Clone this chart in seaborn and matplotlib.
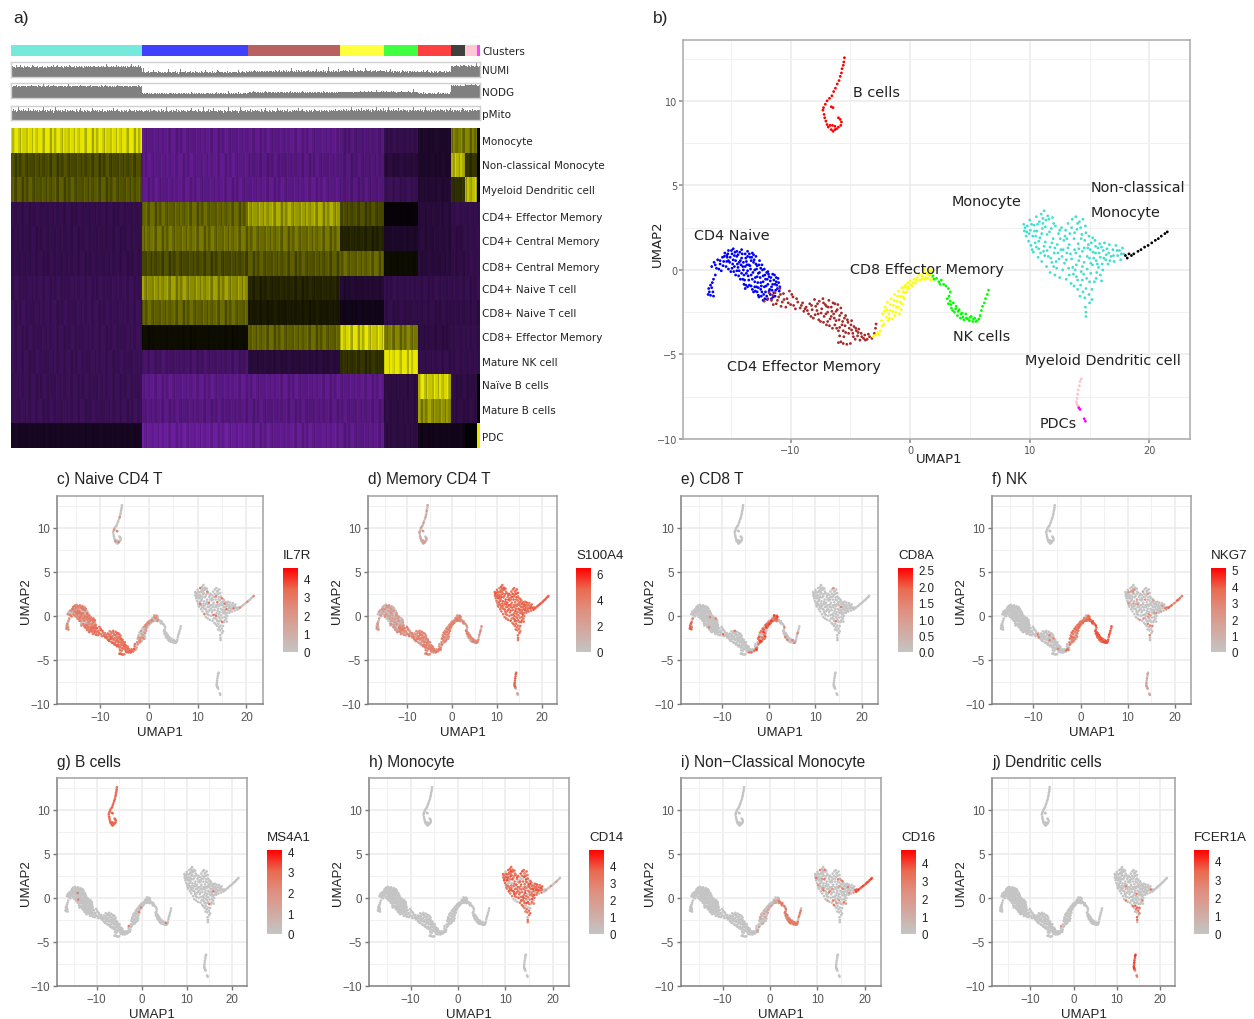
import numpy as np
import pandas as pd
import seaborn as sns
import matplotlib
matplotlib.use('Agg')
import matplotlib.pyplot as plt
from matplotlib.cm import ScalarMappable
from matplotlib.colors import LinearSegmentedColormap, ListedColormap, Normalize

W, H = 1254, 1020
sns.set_theme(style='white')
plt.rcParams['font.family'] = ['Liberation Sans', 'DejaVu Sans']

# ----- UMAP points, one list per cluster
cd4_naive = [(-16.6,0.2),(-16.4,0.45),(-16.2,0.1),(-16.1,0.6),(-15.9,0.35),(-15.8,-0.05),(-15.7,0.75),(-15.6,0.5),(-15.5,1.0),
    (-15.4,0.2),(-15.3,0.75),(-15.2,1.15),(-15.1,0.45),(-15.0,-0.1),(-14.9,0.95),(-14.8,1.25),(-14.8,0.6),(-14.7,0.2),(-14.6,-0.3),
    (-14.5,0.8),(-14.5,1.1),(-14.3,0.45),(-14.3,-0.05),(-14.2,-0.55),(-14.1,1.2),(-14.1,0.7),(-14.0,0.2),(-13.9,-0.3),(-13.9,-0.85),
    (-13.8,0.95),(-13.8,-1.1),(-13.7,0.5),(-13.6,1.1),(-13.6,-0.05),(-13.5,-0.6),(-13.4,0.75),(-13.4,0.25),(-13.3,-0.95),(-13.3,-0.3),
    (-13.2,1.0),(-13.1,0.45),(-13.1,-1.3),(-13.0,0.0),(-13.0,-0.7),(-12.9,0.8),(-12.8,-0.4),(-12.8,0.25),(-12.7,-1.05),(-12.7,-1.5),
    (-12.6,0.55),(-12.6,-0.15),(-12.5,-0.75),(-12.4,0.3),(-12.4,-1.3),(-12.3,-0.35),(-12.3,-1.8),(-12.2,0.05),(-12.2,-1.0),(-12.1,-0.55),
    (-12.0,-1.55),(-12.0,-0.15),(-11.9,-0.85),(-11.8,-1.25),(-11.8,-0.4),(-11.7,-0.65),(-11.6,-1.7),(-11.6,-1.0),(-11.5,-0.25),(-11.4,-0.6),
    (-11.4,-1.35),(-11.3,-0.85),(-11.2,-0.45),(-11.1,-1.1),(-11.0,-0.75),(-10.9,-1.0),(-15.2,0.55),(-14.9,0.1),(-14.6,0.55),(-14.4,0.9),
    (-14.4,0.15),(-14.2,0.55),(-14.0,-0.55),(-13.7,-0.2),(-13.6,0.8),(-13.5,0.3),(-13.3,0.55),(-13.2,-0.55),(-13.0,-1.0),(-12.9,0.35),
    (-12.7,-0.2),(-12.5,0.1),(-12.5,-1.15),(-12.3,-0.7),(-12.1,-1.3),(-11.9,-0.1),(-11.7,-1.45),(-11.5,-0.85),(-11.3,-1.55),(-13.8,0.2),
    (-14.7,0.85),(-13.1,0.9),(-12.8,-1.3),(-11.2,-0.7),
    (-16.3,0.3),(-16.0,0.05),(-15.9,0.55),(-15.65,0.25),(-15.55,0.8),(-15.35,0.5),(-15.25,0.95),(-15.2,0.05),(-15.05,0.75),(-14.95,1.15),
    (-14.85,0.35),(-14.75,-0.1),(-14.65,1.05),(-14.45,0.35),(-14.35,-0.35),(-14.25,1.05),(-14.15,0.3),(-14.05,0.95),(-13.95,0.45),(-13.95,0.0),
    (-13.85,-0.6),(-13.75,0.7),(-13.65,0.3),(-13.55,-0.35),(-13.45,0.95),(-13.45,-0.9),(-13.35,0.05),(-13.25,0.75),(-13.15,-0.15),(-13.05,0.6),
    (-12.95,-0.45),(-12.95,-1.25),(-12.85,0.05),(-12.75,-0.75),(-12.65,0.3),(-12.55,-0.45),(-12.45,-0.95),(-12.45,-1.55),(-12.35,0.0),(-12.25,-1.45),
    (-12.15,-0.3),(-12.05,-0.95),(-11.95,-1.75),(-11.95,-0.55),(-11.85,-0.25),(-11.75,-1.15),(-11.65,-0.45),(-11.55,-1.2),(-11.45,-1.6),(-11.35,-0.3),
    (-11.25,-1.2),(-11.15,-0.9),(-11.05,-0.5),(-10.95,-1.25),(-13.6,-1.0),(-13.2,-1.15),(-12.85,-1.0),(-13.75,-0.9),(-14.1,-0.2),(-14.5,-0.05),
    (-15.35,0.85),(-12.65,-1.6),(-12.15,-1.7)]
cd4_tail = [(-16.3,-0.3),(-16.45,-0.55),(-16.55,-0.75),(-16.7,-0.9),(-16.85,-1.1),(-16.6,-1.05),(-16.8,-1.3),(-16.5,-1.3),
    (-16.7,-1.5),(-16.45,-1.55),(-16.9,-1.45)]
cd4_effector = [(-12.2,-1.85),(-11.9,-1.7),(-11.6,-1.8),(-11.3,-1.35),(-11.2,-2.0),(-11.0,-1.6),(-10.9,-1.1),(-10.7,-1.9),(-10.6,-1.4),
    (-10.4,-2.2),(-10.3,-1.7),(-10.1,-1.25),(-10.0,-2.05),(-9.8,-1.6),(-9.6,-2.3),(-9.4,-1.9),(-9.2,-2.25),(-9.0,-1.95),(-8.9,-2.45),
    (-8.7,-2.2),(-8.5,-2.6),(-8.4,-2.0),(-8.2,-2.35),(-8.1,-2.85),(-8.0,-1.75),(-7.9,-2.15),(-7.7,-2.6),(-7.6,-1.85),(-7.5,-3.05),
    (-7.4,-2.3),(-7.3,-1.7),(-7.2,-2.75),(-7.1,-2.05),(-7.0,-3.25),(-6.9,-2.5),(-6.8,-1.8),(-6.7,-2.9),(-6.6,-2.2),(-6.5,-3.45),
    (-6.4,-2.6),(-6.3,-2.0),(-6.2,-3.0),(-6.1,-2.35),(-6.0,-4.3),(-6.0,-3.6),(-5.9,-2.7),(-5.8,-2.25),(-5.7,-3.25),(-5.6,-4.35),
    (-5.5,-2.85),(-5.4,-3.7),(-5.3,-4.4),(-5.2,-3.1),(-5.1,-3.45),(-5.0,-4.35),(-4.9,-3.0),(-4.8,-3.75),(-4.7,-3.35),(-4.6,-4.1),
    (-4.5,-3.6),(-4.4,-3.9),(-4.2,-4.15),(-4.1,-3.75),(-3.9,-4.05),(-3.8,-3.85),(-3.6,-4.1),(-3.4,-3.95),(-3.2,-4.05),(-3.0,-3.75),
    (-2.9,-3.45),(-2.85,-3.2),(-9.9,-1.45),(-8.8,-2.3),(-7.8,-2.4),(-7.0,-2.15),(-6.6,-2.75),(-6.2,-2.45),(-5.9,-3.4),(-5.4,-2.7),
    (-4.9,-3.55),(-11.5,-1.5),(-10.8,-2.15),(-6.9,-3.05),(-6.3,-3.25),(-5.6,-3.6),(-4.3,-3.5),
    (-11.8,-1.35),(-11.45,-2.05),(-11.1,-1.8),(-10.85,-1.45),(-10.55,-1.75),(-10.2,-1.95),(-9.75,-2.1),(-9.5,-1.7),(-9.1,-2.1),(-8.6,-2.4),
    (-8.3,-2.75),(-8.25,-2.1),(-7.95,-2.65),(-7.75,-2.0),(-7.65,-2.95),(-7.45,-2.55),(-7.25,-1.95),(-7.25,-3.1),(-7.05,-2.6),(-6.85,-2.2),
    (-6.75,-3.3),(-6.55,-2.45),(-6.45,-1.95),(-6.35,-2.85),(-6.15,-3.45),(-6.05,-2.05),(-5.95,-2.95),(-5.75,-2.55),(-5.65,-3.05),(-5.45,-3.3),
    (-5.25,-2.95),(-5.15,-3.75),(-4.95,-3.25),(-4.75,-3.95),(-4.55,-3.45),(-4.35,-3.7),(-4.05,-3.95),(-3.75,-4.15),(-3.5,-3.8),(-5.8,-4.25),
    (-5.9,-3.9),(-5.55,-3.95)]
cd8_effector = [(-3.1,-3.95),(-2.9,-3.85),(-2.7,-3.7),(-2.5,-3.6),(-2.6,-3.85),(-2.4,-3.0),(-2.3,-2.6),(-2.2,-3.2),(-2.1,-2.2),(-2.0,-2.8),
    (-1.9,-1.9),(-1.85,-3.0),(-1.7,-2.4),(-1.6,-1.7),(-1.5,-2.9),(-1.4,-2.1),(-1.3,-1.45),(-1.2,-2.5),(-1.1,-1.85),(-1.0,-1.25),
    (-1.0,-2.2),(-0.9,-2.6),(-0.8,-1.55),(-0.7,-1.05),(-0.7,-2.0),(-0.6,-1.3),(-0.5,-1.7),(-0.4,-0.9),(-0.3,-1.3),(-0.2,-0.75),
    (-0.1,-1.1),(0.0,-0.65),(0.15,-0.95),(0.3,-0.55),(0.45,-0.8),(0.6,-0.45),(0.75,-0.25),(0.8,-0.6),(1.0,-0.35),(1.15,0.05),
    (1.2,-0.55),(1.35,-0.2),(1.45,-0.5),(1.55,0.0),(1.65,-0.3),(1.75,-0.6),(1.85,-0.1),(-1.8,-2.6),(-1.3,-2.7),(-0.5,-1.0),
    (-2.35,-3.3),(-2.15,-2.45),(-1.95,-2.35),(-1.75,-2.85),(-1.65,-2.05),(-1.45,-2.45),(-1.35,-1.8),(-1.15,-2.2),(-1.05,-1.55),(-0.85,-1.9),
    (-0.75,-2.35),(-0.6,-1.6),(-0.45,-1.35),(-0.35,-1.05),(-0.15,-1.0),(0.05,-0.85),(0.25,-0.75),(0.5,-0.6),(0.95,-0.55),(1.1,-0.15),
    (1.3,-0.45),(1.5,-0.25),(1.7,0.0),(1.8,-0.45)]
nk = [(1.9,-0.35),(2.2,-0.5),(2.4,-0.7),(2.6,-0.6),(2.8,-0.85),(3.0,-0.95),(3.2,-1.1),(3.35,-1.3),(3.1,-1.7),(3.2,-2.0),(3.35,-1.85),
    (3.45,-2.25),(3.6,-1.95),(3.7,-2.5),(3.85,-2.15),(3.95,-2.7),(4.1,-2.35),(4.2,-2.85),(4.35,-2.55),(4.5,-2.95),(4.65,-2.6),(4.8,-2.9),
    (4.95,-3.0),(5.1,-2.75),(5.25,-3.05),(5.4,-2.85),(5.6,-3.0),(5.75,-2.9),(5.85,-2.7),(5.95,-2.4),(6.05,-2.15),(6.2,-1.95),
    (6.3,-1.7),(6.45,-1.45),(6.55,-1.2),(2.0,-0.55),(2.5,-0.85),(3.25,-1.55),(3.4,-2.05),(3.55,-2.4),(3.8,-2.3),(4.0,-2.45),(4.25,-2.6),
    (4.4,-2.8),(4.7,-2.85),(5.0,-2.8),(5.3,-2.9),(5.5,-3.05)]
b_cells = [(-5.5,12.55),(-5.55,12.3),(-5.6,12.1),(-5.7,11.9),(-5.75,11.65),(-5.85,11.45),(-5.95,11.2),(-6.1,11.0),(-6.25,10.75),(-6.4,10.55),
    (-6.55,10.3),(-6.75,10.15),(-6.95,10.0),(-7.1,9.8),(-7.25,9.6),(-7.3,9.45),(-7.2,9.2),(-7.15,9.0),(-7.05,8.8),(-6.95,8.6),
    (-6.85,8.45),(-6.7,8.55),(-6.6,8.3),(-6.45,8.2),(-6.3,8.3),(-6.5,8.55),(-6.3,8.5),(-6.15,8.35),(-6.0,8.45),(-5.8,8.55),
    (-5.75,8.75),(-5.85,8.9),(-6.0,9.0),(-6.6,9.65),(-6.45,9.6)]
monocyte = [(9.5,2.7),(9.55,2.3),(9.7,2.0),(9.8,2.6),(9.9,1.7),(10.0,2.95),(10.05,2.35),(10.1,1.45),(10.25,2.0),(10.3,1.05),(10.35,2.65),
    (10.45,1.6),(10.55,3.15),(10.6,2.3),(10.7,0.75),(10.75,1.25),(10.8,2.85),(10.85,1.9),(10.95,3.3),(11.0,0.5),(11.05,2.45),(11.15,1.1),
    (11.2,3.5),(11.3,1.65),(11.35,2.95),(11.4,0.2),(11.45,2.1),(11.55,0.8),(11.6,3.0),(11.7,-0.15),(11.7,1.35),(11.8,2.45),(11.85,0.45),
    (11.95,1.85),(12.05,1.0),(12.1,-0.3),(12.15,2.6),(12.25,0.1),(12.3,1.5),(12.4,2.15),(12.45,0.65),(12.5,-0.45),(12.6,1.2),(12.65,2.5),
    (12.75,0.0),(12.85,1.75),(12.9,0.4),(13.0,2.35),(13.05,-0.55),(13.1,1.0),(13.2,2.75),(13.25,0.1),(13.3,1.5),(13.35,2.15),(13.45,-0.8),
    (13.5,0.65),(13.55,3.0),(13.65,-0.25),(13.7,1.85),(13.75,1.2),(13.85,3.15),(13.9,0.3),(13.95,2.4),(14.0,-0.6),(14.05,1.55),(14.15,2.85),
    (14.2,0.8),(14.3,-0.1),(14.35,2.1),(14.4,1.1),(14.45,3.0),(14.55,0.45),(14.6,1.75),(14.65,2.6),(14.75,-0.5),(14.8,0.05),(14.85,1.3),
    (14.95,2.0),(15.0,0.7),(15.1,-0.2),(15.15,1.6),(15.25,0.3),(15.3,1.05),(15.4,-0.7),(15.45,1.75),(15.55,0.55),(15.6,-0.15),(15.7,1.3),
    (15.75,0.15),(15.85,1.55),(15.9,0.75),(16.0,-0.65),(16.05,0.35),(16.15,1.15),(16.25,1.6),(16.35,0.6),(16.45,1.25),(16.55,0.35),(16.65,1.5),
    (16.8,0.8),(16.95,1.2),(17.05,0.5),(17.2,1.45),(17.35,0.85),(17.5,1.15),(17.6,0.6),(17.75,1.3),(17.85,0.95),(10.5,2.0),(11.1,2.75),
    (11.25,0.85),(11.9,3.1),(12.0,0.2),(12.55,1.85),(13.1,1.85),(13.4,0.95),(13.8,0.0),(14.1,1.25),(14.25,2.5),(14.5,-0.25),(15.05,1.2),(15.5,1.0),(16.4,0.9),
    (9.6,2.5),(9.75,2.25),(9.95,2.15),(10.15,2.7),(10.2,1.2),(10.4,2.3),(10.55,1.35),(10.65,2.7),(10.75,1.7),(10.9,1.0),(11.0,2.15),(11.1,3.05),
    (11.2,1.4),(11.3,2.55),(11.45,1.15),(11.5,3.2),(11.65,2.25),(11.75,0.7),(11.85,1.6),(12.0,2.75),(12.1,1.3),(12.2,0.5),(12.35,1.0),(12.5,2.35),
    (12.7,0.8),(12.8,1.2),(12.95,2.0),(13.05,0.6),(13.2,1.3),(13.3,-0.3),(13.5,2.5),(13.6,0.15),(13.75,2.2),(13.85,1.0),(14.0,2.75),(14.1,0.55),
    (14.3,1.85),(14.4,0.2),(14.55,1.3),(14.7,2.2),(14.8,0.8),(14.9,1.5),(15.1,0.4),(15.25,1.9),(15.35,0.7),(15.5,1.4),(15.65,0.35),(15.8,1.0),
    (16.0,1.35),(16.1,0.0),(16.2,0.7),(16.6,1.0),(16.7,0.55),(17.0,0.85),(17.3,1.15),(17.65,0.95),(15.9,-0.3),(15.55,-0.5),(15.0,-0.7),(14.4,-0.6),(13.9,-0.4)]
mono_tip = [(13.7,-0.95),(14.0,-1.15),(14.25,-0.9),(14.45,-1.3),(14.2,-1.55),(14.7,-1.1),(14.95,-1.45),(14.6,-1.65),(15.2,-1.15),(15.2,-1.75),
    (15.0,-1.95),(14.65,-2.2),(14.7,-2.5),(14.7,-2.75)]
non_classical = [(18.0,0.85),(18.15,0.7),(18.3,0.95),(18.5,0.85),(18.7,0.95),(19.05,1.1),(19.3,1.2),(19.6,1.35),(19.9,1.45),(20.2,1.6),(20.5,1.75),
    (20.75,1.85),(21.0,2.0),(21.3,2.15),(21.5,2.25)]
dendritic = [(14.3,-6.45),(14.2,-6.6),(14.15,-6.85),(14.05,-7.1),(14.0,-7.35),(13.95,-7.6),(13.9,-7.8),(13.95,-7.95),(14.05,-8.05)]
pdc = [(14.1,-8.15),(14.2,-8.25),(14.55,-8.8),(14.65,-8.95)]

cluster_points = {'cd4_naive': cd4_naive, 'cd4_tail': cd4_tail, 'cd4_effector': cd4_effector, 'cd8_effector': cd8_effector, 'nk': nk,
                  'b_cells': b_cells, 'monocyte': monocyte, 'mono_tip': mono_tip, 'non_classical': non_classical,
                  'dendritic': dendritic, 'pdc': pdc}
cluster_colors = {'cd4_naive': '#0000ff', 'cd4_tail': '#0000ff', 'cd4_effector': '#a52a2a', 'cd8_effector': '#ffff00', 'nk': '#00ff00',
                  'b_cells': '#ff0000', 'monocyte': '#40e0d0', 'mono_tip': '#40e0d0', 'non_classical': '#000000',
                  'dendritic': '#ffc0cb', 'pdc': '#ff00ff'}

# ----- marker expression by cluster, the values are repeated along each cluster
il7r = {'cd4_naive': [2.5,0,2.8,2.2,0,3], 'cd4_tail': [2.5,2,0], 'cd4_effector': [3,3.2,2.6,3.5,2.8], 'cd8_effector': [0,2.2,0,1.8,0,2.5],
        'b_cells': [0,0,0,0,0,0,2.5], 'monocyte': [0,0,0,0,0,0,0,0,0,0,0,0,3], 'non_classical': [0,0,0,0,2.5]}
s100a4 = {'cd4_naive': [0,1.5,0,2.5,0,0,3], 'cd4_tail': [3,0,2], 'cd4_effector': [3.5,2.5,4,3,2,4], 'cd8_effector': [3.5,3,4,2.5],
          'nk': [3,2,4,0,3.5,1], 'b_cells': [2.5,0,0,3,0,1.5], 'monocyte': [4.5,4.5,4,5,4.2], 'mono_tip': [4.5,4], 'non_classical': [4.5,5],
          'dendritic': [4.5,5], 'pdc': [3,0]}
cd8a = {'cd4_naive': [0]*50 + [1.5], 'cd4_tail': [1.8,0,2,1.7], 'cd4_effector': [0]*30 + [1.8], 'cd8_effector': [1.8,0,2,1.5,2.2,0,1.7],
        'nk': [0,0,0,0,0,0,0,1.5], 'monocyte': [0]*60 + [1.5]}
nkg7 = {'cd4_effector': [0]*18 + [3], 'cd8_effector': [3,3.5,2.5,0,3.8,3], 'nk': [4,3.5,4.2,3.8], 'monocyte': [0,0,0,0,0,0,0,2.5,0,0,0,0,0,0,0,0,2],
        'mono_tip': [0,0,3], 'non_classical': [3.5,0,3,0,4,3], 'dendritic': [0,2], 'pdc': [0,2]}
ms4a1 = {'b_cells': [2.9,3.1,2.7], 'cd4_naive': [0]*80 + [2.5], 'cd4_effector': [0]*70 + [2.5], 'cd8_effector': [0]*30 + [2.5],
         'nk': [0]*25 + [2.5], 'monocyte': [0]*90 + [2.5]}
cd14 = {'monocyte': [3.5,3,4,3.2,3.6,0], 'mono_tip': [3.5,3,0], 'non_classical': [0,0,0,2]}
cd16 = {'nk': [3,2.5,3.2,3,0], 'cd8_effector': [0,0,1.5,0,1,0], 'non_classical': [3.8,4,3.5], 'monocyte': [0,0,0,0,0,0,0,2,0,0,0,0,3,0]}
fcer1a = {'dendritic': [3.8,4,3.5], 'pdc': [3,2], 'mono_tip': [3,0,3.5], 'monocyte': [0]*35 + [3], 'cd4_effector': [0]*70 + [2]}

panel_titles = ['c) Naive CD4 T', 'd) Memory CD4 T', 'e) CD8 T', 'f) NK', 'g) B cells', 'h) Monocyte', 'i) Non\u2212Classical Monocyte', 'j) Dendritic cells']
gene_names = ['IL7R', 'S100A4', 'CD8A', 'NKG7', 'MS4A1', 'CD14', 'CD16', 'FCER1A']
gene_tables = [il7r, s100a4, cd8a, nkg7, ms4a1, cd14, cd16, fcer1a]
gene_max = [4.55, 6.4, 2.55, 5.1, 4.05, 4.94, 4.73, 4.6]
gene_ticks = [[0,1,2,3,4], [0,2,4,6], [0,0.5,1,1.5,2,2.5], [0,1,2,3,4,5], [0,1,2,3,4], [0,1,2,3,4], [0,1,2,3,4], [0,1,2,3,4]]
tick_fmt = ['%g', '%g', '%.1f', '%g', '%g', '%g', '%g', '%g']

# left, right of axes and left of colour bar in pixels, top row then bottom row
panel_left = [57, 368, 681, 992, 57, 369, 681, 992]
panel_right = [263, 557, 878, 1191, 247, 569, 881, 1175]
bar_left = [283, 576, 898, 1211, 267, 589, 901, 1194]

# ----- heatmap of panel a: rows by cluster blocks
heat_rows = ['Monocyte', 'Non-classical Monocyte', 'Myeloid Dendritic cell', 'CD4+ Effector Memory', 'CD4+ Central Memory', 'CD8+ Central Memory',
             'CD4+ Naive T cell', 'CD8+ Naive T cell', 'CD8+ Effector Memory', 'Mature NK cell', 'Na\u00efve B cells', 'Mature B cells', 'PDC']
block_widths = [131, 106, 92, 44, 34, 33, 14, 12, 3]
block_colors = ['#76e9dd', '#4040ff', '#b96060', '#ffff40', '#40ff40', '#ff4040', '#404040', '#ffc8d4', '#ff40ff']
heat_means = [
    [0.90, -0.80, -0.80, -0.70, -0.45, -0.25, 0.50, 0.50, -0.05],
    [0.30, -0.80, -0.75, -0.70, -0.35, -0.25, 0.75, 0.20, -0.05],
    [0.35, -0.80, -0.80, -0.72, -0.50, -0.30, 0.20, 0.75, -0.05],
    [-0.45, 0.40, 0.65, 0.30, -0.05, -0.35, -0.45, -0.45, -0.45],
    [-0.45, 0.45, 0.45, 0.15, -0.25, -0.35, -0.40, -0.45, -0.45],
    [-0.45, 0.30, 0.35, 0.40, 0.05, -0.35, -0.40, -0.45, -0.45],
    [-0.50, 0.60, 0.15, -0.30, -0.45, -0.45, -0.45, -0.45, -0.45],
    [-0.50, 0.40, 0.10, -0.15, -0.42, -0.42, -0.42, -0.42, -0.42],
    [-0.50, 0.05, 0.40, 0.85, 0.50, -0.40, -0.45, -0.45, -0.45],
    [-0.50, -0.60, -0.35, 0.20, 0.95, -0.45, -0.45, -0.45, -0.45],
    [-0.50, -0.80, -0.80, -0.80, -0.40, 0.85, -0.40, -0.40, 0.00],
    [-0.50, -0.75, -0.75, -0.75, -0.40, 0.60, -0.40, -0.40, -0.05],
    [-0.20, -0.90, -0.85, -0.80, -0.40, -0.15, -0.15, -0.02, 1.00],
]
stripe = [0.3, -0.6, 0.1, 0.8, -0.2, -0.9, 0.5, 0.0, -0.4, 0.9, 0.2, -0.7, 0.6, -0.1, -0.5, 0.4, 1.0, -0.3, -0.8, 0.7, 0.1, -1.0, 0.35]
stripe_runs = [1, 2, 1, 3, 2, 1, 1, 4, 2, 1, 3, 1, 2, 2, 1, 3, 1, 1, 2, 4, 1, 2, 1]
spikes = [0.1, 0.5, -0.2, 0.3, -0.6, 0.9, 0.0, -0.3, 0.4, 1.6, -0.1, 0.2, -0.5, 0.6, 0.1, -0.4, 0.8, -0.2, 0.3, -0.7, 0.0, 2.2, 0.4, -0.3, 0.2, -0.1, 0.7,
          -0.6, 0.5, 0.1, -0.2, 1.1, -0.4, 0.3, 0.0, -0.5, 0.6]
numi_levels = [0.68, 0.32, 0.37, 0.40, 0.36, 0.34, 0.72, 0.72, 0.70]
nodg_levels = [0.78, 0.30, 0.37, 0.40, 0.40, 0.30, 0.82, 0.88, 0.82]
pmito_levels = [0.66, 0.64, 0.66, 0.68, 0.68, 0.68, 0.68, 0.68, 0.68]
track_names = ['NUMI', 'NODG', 'pMito']
label_tops = [141, 165, 190, 217, 241, 267, 289, 313, 337, 362, 385, 410, 437]

fig = plt.figure(figsize=(W / 100, H / 100), dpi=100, facecolor='white')


def px_axes(left, top, right, bottom):
    return fig.add_axes([left / W, 1 - bottom / H, (right - left) / W, (bottom - top) / H])


def px_text(x, y, text, **kw):
    kw.setdefault('va', 'center')
    fig.text(x / W, 1 - (y + 1) / H, text, **kw)


def add_grid(ax):
    ax.set_xticks([-15, -5, 5, 15], minor=True)
    ax.set_yticks([-7.5, -2.5, 2.5, 7.5, 12.5], minor=True)
    ax.grid(which='major', color='#ebebeb', lw=1.1)
    ax.grid(which='minor', color='#f1f1f1', lw=0.7)
    ax.set_axisbelow(True)
    ax.tick_params(which='minor', length=0)


umap = pd.concat([pd.DataFrame(pts, columns=['UMAP1', 'UMAP2']).assign(cluster=name) for name, pts in cluster_points.items()], ignore_index=True)

# ----- panel a
n_cols = sum(block_widths)
block_index = np.repeat(np.arange(len(block_widths)), block_widths)
purple_yellow = LinearSegmentedColormap.from_list('py', ['#6f1fa3', '#000000', '#e8e800'])
stripe_cols = np.repeat(stripe, stripe_runs)

cax = px_axes(11, 46, 480, 57)
sns.heatmap(block_index[None, :], ax=cax, cmap=ListedColormap(block_colors), cbar=False, xticklabels=False, yticklabels=False)

track_boxes = [(63, 78), (84, 99), (107, 121)]
track_levels = [numi_levels, nodg_levels, pmito_levels]
track_noise = [0.10, 0.06, 0.14]
for name, box, lev, amp, shift in zip(track_names, track_boxes, track_levels, track_noise, [0, 11, 23]):
    ax = px_axes(11, box[0], 480, box[1])
    vals = np.array(lev)[block_index] + amp * np.resize(np.roll(spikes, shift), n_cols) * np.resize([1, 0.6, 1.3, 0.4, 0.9], n_cols)
    ax.bar(np.arange(n_cols), vals, width=1.0, color='#808080', lw=0)
    ax.set_xlim(-0.5, n_cols - 0.5)
    ax.set_ylim(0, 1)
    ax.set_xticks([])
    ax.set_yticks([])
    for sp in ax.spines.values():
        sp.set_color('#d0d0d0')
        sp.set_linewidth(1.0)
    px_text(482, (box[0] + box[1]) / 2, name, fontsize=7.5, family='DejaVu Sans', color='#222222')
px_text(482, 51, 'Clusters', fontsize=7.5, family='DejaVu Sans', color='#222222')

heat = np.zeros((len(heat_rows), n_cols))
for r, row in enumerate(heat_means):
    base = np.array(row)[block_index]
    tex = np.resize(np.roll(stripe_cols, r * 7), n_cols)
    heat[r] = base * (1 + np.where(base > 0, 0.22, 0.12) * tex)
ax = px_axes(11, 129, 480, 449)
sns.heatmap(pd.DataFrame(heat, index=heat_rows), ax=ax, cmap=purple_yellow, vmin=-1, vmax=1, cbar=False, xticklabels=False, yticklabels=False)
for name, y in zip(heat_rows, label_tops):
    px_text(482, y, name, fontsize=7.5, family='DejaVu Sans', color='#222222')

# ----- panel b
ax = px_axes(683, 41, 1190, 440)
sns.scatterplot(data=umap, x='UMAP1', y='UMAP2', hue='cluster', palette=cluster_colors, s=4, linewidth=0, legend=False, ax=ax)
ax.set_xlim(-19, 23.4)
ax.set_ylim(-10, 13.6)
ax.set_xticks([-10, 0, 10, 20])
ax.set_yticks([-10, -5, 0, 5, 10])
add_grid(ax)
ax.set_xticklabels(['\u221210', '0', '10', '20'])
ax.set_yticklabels(['\u221210', '\u22125', '0', '5', '10'])
ax.tick_params(which='major', length=3, color='#999999', labelsize=7, labelcolor='#555555', pad=1, left=True, bottom=True)
for lab in ax.get_xticklabels() + ax.get_yticklabels():
    lab.set_family('DejaVu Sans')
ax.set_xlabel('')
ax.set_ylabel('')
for sp in ax.spines.values():
    sp.set_color('#aaaaaa')
    sp.set_linewidth(1.1)
px_text(939, 459, 'UMAP1', ha='center', fontsize=9.5, family='DejaVu Sans', color='#222222')
px_text(657, 243, 'UMAP2', ha='center', rotation=90, fontsize=9.5, family='DejaVu Sans', color='#222222')

label_b = [('B cells', 853, 92), ('Non-classical', 1091, 187), ('Monocyte', 1091, 212), ('Monocyte', 952, 201), ('CD4 Naive', 694, 235),
           ('CD8 Effector Memory', 850, 269), ('NK cells', 953, 336), ('Myeloid Dendritic cell', 1025, 360),
           ('CD4 Effector Memory', 727, 366), ('PDCs', 1040, 423)]
for text, x, y in label_b:
    px_text(x, y, text, fontsize=10.4, family='DejaVu Sans', color='#222222')

px_text(13, 17, 'a)', fontsize=12.5, color='#222222')
px_text(653, 17, 'b)', fontsize=12.5, color='#222222')

# ----- panels c to j
gray_red = LinearSegmentedColormap.from_list('gr', [(0, '#c4c4c4'), (0.5, '#df9080'), (0.75, '#ea6a50'), (1, '#ff0000')])
for i, (title, gene, table, vmax) in enumerate(zip(panel_titles, gene_names, gene_tables, gene_max)):
    top = 497 if i < 4 else 779
    bottom = 705 if i < 4 else 987
    ax = px_axes(panel_left[i], top, panel_right[i], bottom)
    frame = umap.copy()
    frame['expr'] = 0.0
    for name, pattern in table.items():
        mask = frame['cluster'] == name
        frame.loc[mask, 'expr'] = np.resize(pattern, mask.sum())
    frame = frame.sort_values('expr', kind='stable')
    sns.scatterplot(data=frame, x='UMAP1', y='UMAP2', hue='expr', palette=gray_red, hue_norm=(0, vmax), s=3.5, linewidth=0, legend=False, ax=ax)
    ax.set_xlim(-18.8, 23.4)
    ax.set_ylim(-10, 13.6)
    ax.set_xticks([-10, 0, 10, 20])
    ax.set_yticks([-10, -5, 0, 5, 10])
    add_grid(ax)
    ax.set_xticklabels(['\u221210', '0', '10', '20'])
    ax.set_yticklabels(['\u221210', '\u22125', '0', '5', '10'])
    ax.tick_params(which='major', length=3, width=1, color='#777777', labelsize=8.3, labelcolor='#555555', pad=2, left=True, bottom=True)
    ax.set_xlabel('UMAP1', fontsize=9.5, labelpad=2, color='#222222')
    ax.set_ylabel('UMAP2', fontsize=9.5, labelpad=-1, color='#222222')
    for side, sp in ax.spines.items():
        sp.set_color('#a0a0a0' if side in ('top', 'right') else '#808080')
        sp.set_linewidth(1.1)
    px_text(panel_left[i], top - 18, title, fontsize=11.2, color='#222222')

    bar_top = top + 72
    bar_ax = px_axes(bar_left[i], bar_top, bar_left[i] + 15, bar_top + 84)
    cb = fig.colorbar(ScalarMappable(Normalize(0, vmax), gray_red), cax=bar_ax, ticks=gene_ticks[i], format=tick_fmt[i])
    cb.outline.set_visible(False)
    cb.ax.tick_params(length=0, labelsize=8.3, pad=4, labelcolor='#222222')
    px_text(bar_left[i], bar_top - 14, gene, fontsize=9.6, color='#222222')

fig.savefig('out.png', dpi=100)
